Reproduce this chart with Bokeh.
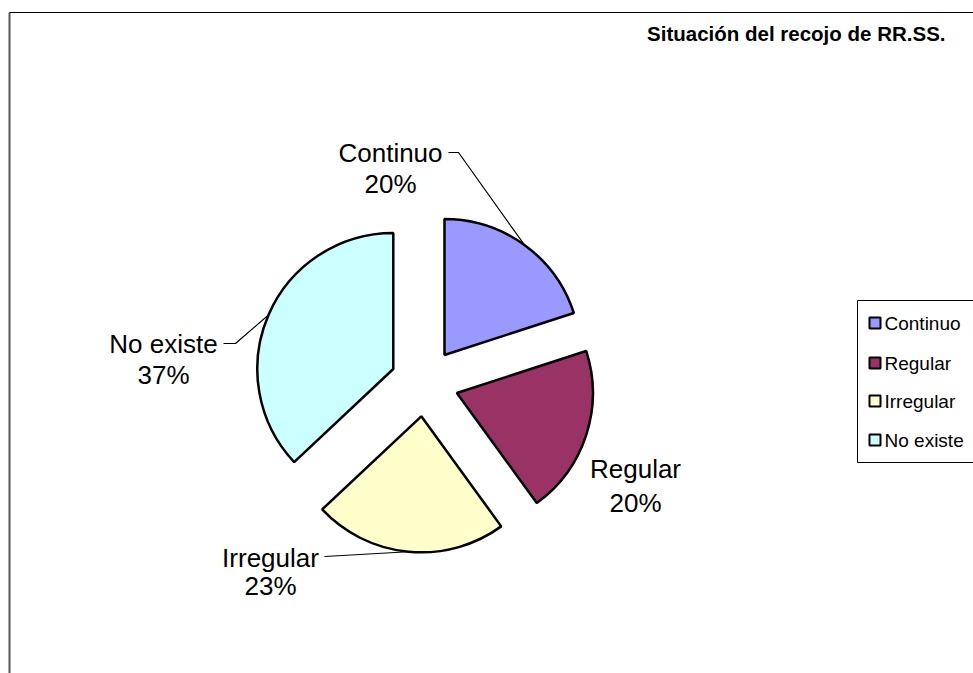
import math
from bokeh.plotting import figure
from bokeh.models import Range1d, ColumnDataSource
from bokeh.core.properties import value
from bokeh.embed import file_html
from bokeh.resources import INLINE

# ---- data ----
categories = ["Continuo", "Regular", "Irregular", "No existe"]
values = [20, 20, 23, 37]
colors = ["#9999FF", "#993366", "#FFFFCC", "#CCFFFF"]
title_text = "Situación del recojo de RR.SS."

# ---- layout (page pixel coordinates) ----
W, H = 973, 673
FONT = value("Liberation Sans")


def Y(py):
    return H - py


p = figure(width=W, height=H, x_range=Range1d(0, W), y_range=Range1d(0, H),
           output_backend="svg", toolbar_location=None, min_border=0,
           x_axis_type=None, y_axis_type=None)
p.outline_line_color = None
p.background_fill_color = "white"
p.border_fill_color = "white"

# chart border
p.line(x=[9, 9], y=[Y(12), Y(700)], line_color="#555555", line_width=2)
p.line(x=[9, 990], y=[Y(12), Y(12)], line_color="black", line_width=1)

# pie
cx, cy = 424, Y(382)
radius = 136
explode = 34
total = float(sum(values))
xs, ys, starts, ends, mids = [], [], [], [], []
cum = 0.0
for v in values:
    a0 = 90 - 360 * cum / total
    a1 = 90 - 360 * (cum + v) / total
    m = math.radians((a0 + a1) / 2)
    xs.append(cx + explode * math.cos(m))
    ys.append(cy + explode * math.sin(m))
    starts.append(math.radians(a1))
    ends.append(math.radians(a0))
    mids.append(m)
    cum += v

src = ColumnDataSource(dict(x=xs, y=ys, start=starts, end=ends, color=colors))
p.wedge(x="x", y="y", radius=radius, start_angle="start", end_angle="end",
        direction="anticlock", fill_color="color", line_color="black",
        line_width=2.5, source=src)

# data labels
label_pos = [(390, 152, 183), (635, 468, 502), (270, 557, 585), (163, 343, 374)]
leader_elbows = [[(448, 152), (458, 152)], None, [(324, 556)], [(223, 343), (235, 343)]]
for i, cat in enumerate(categories):
    lx, b1, b2 = label_pos[i]
    p.text(x=[lx], y=[Y(b1)], text=[cat], text_align="center", text_baseline="alphabetic",
           text_font=FONT, text_font_size="26px", text_color="black")
    p.text(x=[lx], y=[Y(b2)], text=[f"{values[i]}%"], text_align="center",
           text_baseline="alphabetic", text_font=FONT, text_font_size="26px",
           text_color="black")
    el = leader_elbows[i]
    if el:
        ex = xs[i] + radius * math.cos(mids[i])
        ey = ys[i] + radius * math.sin(mids[i])
        lxs = [pt[0] for pt in el] + [ex]
        lys = [Y(pt[1]) for pt in el] + [ey]
        p.line(x=lxs, y=lys, line_color="black", line_width=1.2)

# title
p.text(x=[945], y=[Y(33)], text=[title_text], text_align="right",
       text_baseline="alphabetic", text_font=FONT, text_font_size="20.5px",
       text_font_style="bold", text_color="black")

# legend
p.quad(left=[857], right=[1000], top=[Y(300)], bottom=[Y(462)], fill_color="white",
       line_color="black", line_width=1)
rows = [323, 363, 401, 440]
for i, cat in enumerate(categories):
    ry = rows[i]
    p.quad(left=[869], right=[880], top=[Y(ry - 6)], bottom=[Y(ry + 5)],
           fill_color=colors[i], line_color="black", line_width=2)
    p.text(x=[884], y=[Y(ry)], text=[cat], text_align="left", text_baseline="middle",
           text_font=FONT, text_font_size="19px", text_color="black")

open("out.html", "w").write(file_html(p, INLINE))
